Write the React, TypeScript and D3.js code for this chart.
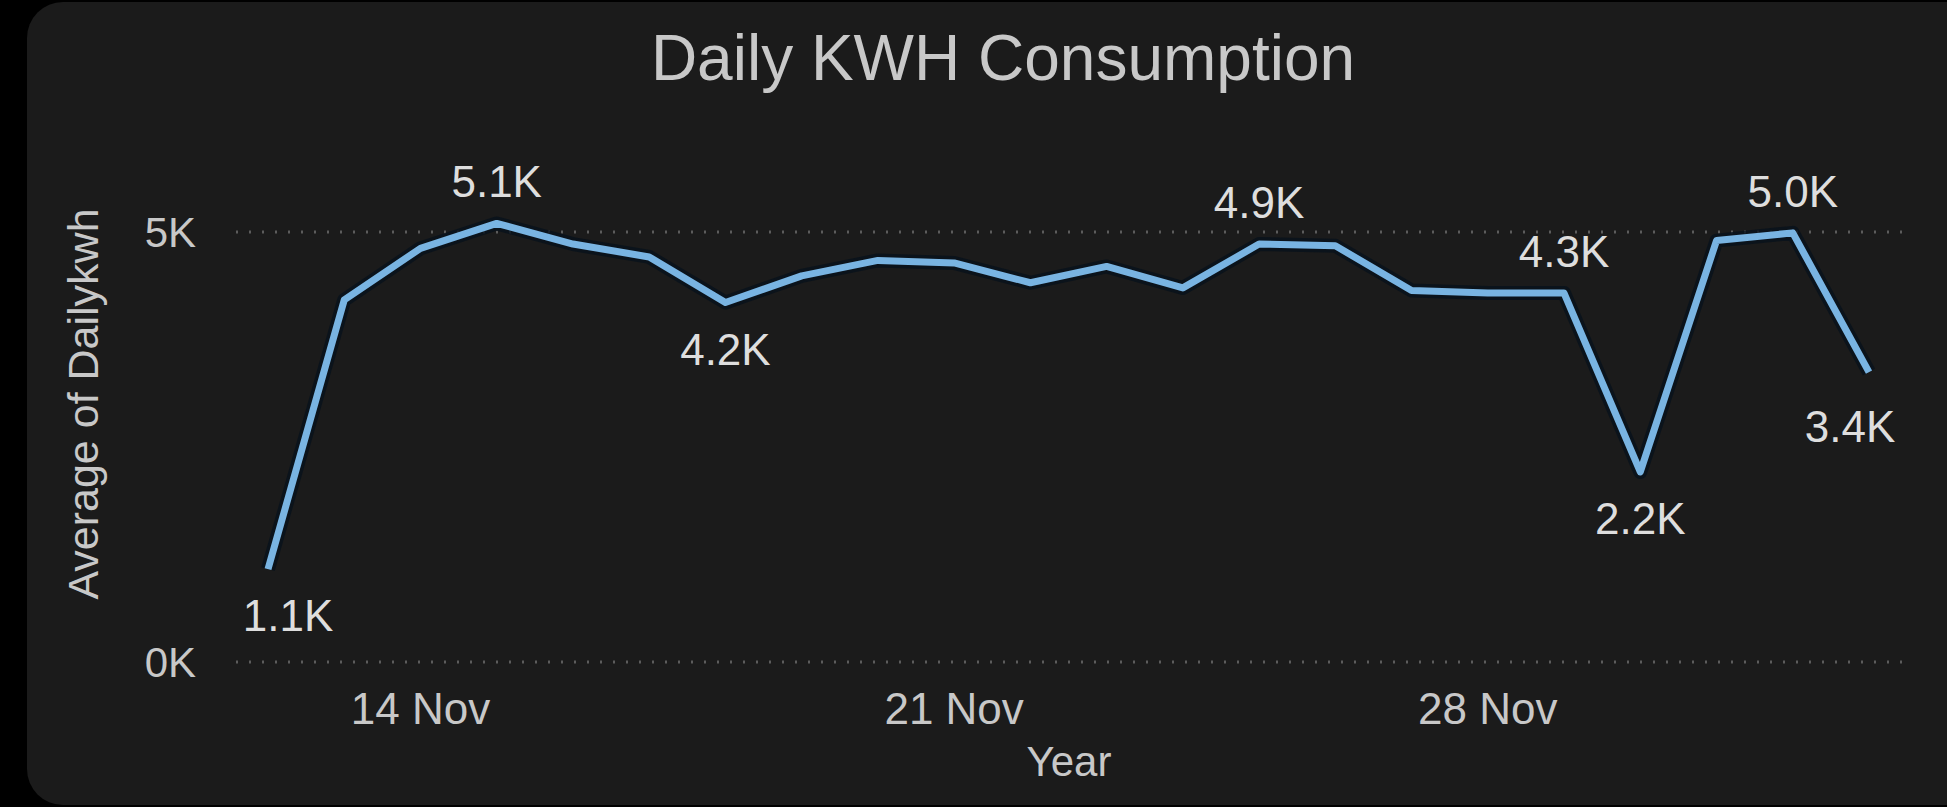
import React, { useEffect, useRef } from 'react';
import * as d3 from 'd3';

// daily readings, 12 Nov - 3 Dec
const days = [
  '2022-11-12', '2022-11-13', '2022-11-14', '2022-11-15', '2022-11-16', '2022-11-17',
  '2022-11-18', '2022-11-19', '2022-11-20', '2022-11-21', '2022-11-22', '2022-11-23',
  '2022-11-24', '2022-11-25', '2022-11-26', '2022-11-27', '2022-11-28', '2022-11-29',
  '2022-11-30', '2022-12-01', '2022-12-02', '2022-12-03',
];
const dailyKwh = [
  1080, 4210, 4810, 5100, 4860, 4710, 4180, 4490, 4670, 4640, 4410,
  4600, 4350, 4860, 4840, 4320, 4290, 4290, 2210, 4900, 4990, 3370,
];
const xTicks = ['2022-11-14', '2022-11-21', '2022-11-28'];
const yTicks = [0, 5000];
const labelledDays = [0, 3, 6, 13, 17, 18, 20, 21];

const W = 1947;
const H = 807;

const App = () => {
  const svgRef = useRef<SVGSVGElement>(null);

  useEffect(() => {
    if (!svgRef.current) return;
    const svg = d3.select(svgRef.current);
    svg.selectAll('*').remove();

    const font = '"Liberation Sans", Arial, sans-serif';
    const parse = d3.timeParse('%Y-%m-%d');
    const data = days.map((d, i) => ({ date: parse(d) as Date, v: dailyKwh[i] }));

    // card
    svg.append('rect').attr('width', W).attr('height', H).attr('fill', '#000');
    svg.append('rect')
      .attr('x', 27).attr('y', 2)
      .attr('width', W + 40).attr('height', H - 4)
      .attr('rx', 36)
      .attr('fill', '#1b1b1b');

    const x = d3.scaleTime()
      .domain(d3.extent(data, d => d.date) as [Date, Date])
      .range([268, 1869]);
    const y = d3.scaleLinear().domain([0, 5000]).range([662, 232]);

    // dotted gridlines
    svg.append('g')
      .selectAll('line')
      .data(yTicks)
      .enter()
      .append('line')
      .attr('x1', 236)
      .attr('x2', 1912)
      .attr('y1', d => y(d))
      .attr('y2', d => y(d))
      .attr('stroke', '#5c5c5c')
      .attr('stroke-width', 3)
      .attr('stroke-dasharray', '2,11');

    // y tick labels
    svg.append('g')
      .selectAll('text')
      .data(yTicks)
      .enter()
      .append('text')
      .attr('x', 196)
      .attr('y', d => y(d) + 15)
      .attr('text-anchor', 'end')
      .attr('fill', '#c8c8c8')
      .style('font-family', font)
      .style('font-size', '42px')
      .text(d => `${d / 1000}K`);

    // x tick labels
    const fmtTick = d3.timeFormat('%-d %b');
    svg.append('g')
      .selectAll('text')
      .data(xTicks.map(t => parse(t) as Date))
      .enter()
      .append('text')
      .attr('x', d => x(d))
      .attr('y', 724)
      .attr('text-anchor', 'middle')
      .attr('fill', '#c8c8c8')
      .style('font-family', font)
      .style('font-size', '44px')
      .text(d => fmtTick(d));

    // axis titles
    svg.append('text')
      .attr('transform', 'translate(98,404) rotate(-90)')
      .attr('text-anchor', 'middle')
      .attr('fill', '#c8c8c8')
      .style('font-family', font)
      .style('font-size', '43px')
      .text('Average of Dailykwh');

    svg.append('text')
      .attr('x', 1069)
      .attr('y', 776)
      .attr('text-anchor', 'middle')
      .attr('fill', '#c8c8c8')
      .style('font-family', font)
      .style('font-size', '42px')
      .text('Year');

    // title
    svg.append('text')
      .attr('x', 1003)
      .attr('y', 80)
      .attr('text-anchor', 'middle')
      .attr('fill', '#c8c8c8')
      .style('font-family', font)
      .style('font-size', '64px')
      .text('Daily KWH Consumption');

    // line with soft shadow
    const line = d3.line<{ date: Date; v: number }>()
      .x(d => x(d.date))
      .y(d => y(d.v));

    svg.append('path')
      .datum(data)
      .attr('fill', 'none')
      .attr('stroke', '#08121c')
      .attr('stroke-width', 14)
      .attr('stroke-linejoin', 'round')
      .attr('opacity', 0.8)
      .attr('d', line);

    svg.append('path')
      .datum(data)
      .attr('fill', 'none')
      .attr('stroke', '#79b4e2')
      .attr('stroke-width', 7)
      .attr('stroke-linejoin', 'round')
      .attr('d', line);

    // data labels: above local highs, below lows
    const fmtK = (v: number) => `${d3.format('.1f')(v / 1000)}K`;
    svg.append('g')
      .selectAll('text')
      .data(labelledDays)
      .enter()
      .append('text')
      .each(function (i) {
        const d = data[i];
        const prev = i > 0 ? data[i - 1].v : -Infinity;
        const next = i < data.length - 1 ? data[i + 1].v : -Infinity;
        const above = d.v >= prev && d.v >= next;
        let dx = 0;
        if (i === 0) dx = 20;
        if (i === data.length - 1) dx = -19;
        d3.select(this)
          .attr('x', x(d.date) + dx)
          .attr('y', above ? y(d.v) - 26 : y(d.v) + (i === data.length - 1 ? 70 : 62))
          .text(fmtK(d.v));
      })
      .attr('text-anchor', 'middle')
      .attr('fill', '#dedede')
      .style('font-family', font)
      .style('font-size', '44px');
  }, []);

  return (
    <div style={{ position: 'fixed', left: 0, top: 0, width: W, height: H, background: '#000' }}>
      <svg ref={svgRef} width={W} height={H}></svg>
    </div>
  );
};

export default App;
